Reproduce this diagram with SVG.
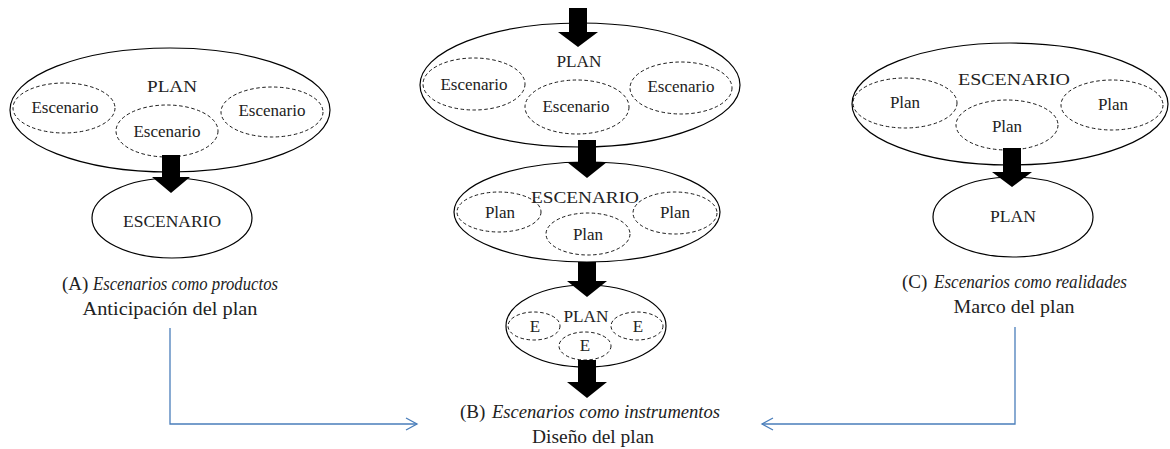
<svg xmlns="http://www.w3.org/2000/svg" width="1170" height="449" viewBox="0 0 1170 449">
  <style>
    .outer { fill: #ffffff; stroke: #000000; stroke-width: 1.2; }
    .inner { fill: none; stroke: #000000; stroke-width: 0.9; stroke-dasharray: 3.5 2.5; }
    text { font-family: "Liberation Serif", "DejaVu Serif", serif; fill: #222222; text-anchor: middle; }
    .t { font-size: 17px; }
    .cap { font-size: 19px; }
    .lead { text-anchor: start; }
    .it { font-style: italic; text-anchor: start; }
    .block { fill: #000000; }
    .link { fill: none; stroke: #4a7ebb; stroke-width: 1.3; }
  </style>
  <defs>
    <marker id="open" viewBox="0 0 14 14" refX="12" refY="7" markerWidth="14" markerHeight="14" markerUnits="userSpaceOnUse" orient="auto">
      <path d="M1,1 L12,7 L1,13" fill="none" stroke="#4a7ebb" stroke-width="1.3"/>
    </marker>
  </defs>

  <!-- (A) Scenarios as products -->
  <g id="a-plan">
    <ellipse class="outer" cx="170" cy="110" rx="160" ry="62"/>
    <text class="t" x="172" y="92" textLength="50" lengthAdjust="spacingAndGlyphs">PLAN</text>
    <ellipse class="inner" cx="64" cy="108" rx="51" ry="25"/>
    <text class="t" x="65" y="113">Escenario</text>
    <ellipse class="inner" cx="167" cy="131" rx="51" ry="26"/>
    <text class="t" x="167" y="137">Escenario</text>
    <ellipse class="inner" cx="272" cy="112" rx="51" ry="25"/>
    <text class="t" x="272" y="116">Escenario</text>
  </g>
  <g id="a-escenario">
    <ellipse class="outer" cx="172" cy="218" rx="80" ry="40"/>
    <text class="t" x="172" y="227" textLength="98" lengthAdjust="spacingAndGlyphs">ESCENARIO</text>
  </g>
  <g id="a-caption">
    <text class="cap lead" x="62" y="290">(A)</text>
    <text class="cap it" x="93" y="290" textLength="185" lengthAdjust="spacingAndGlyphs">Escenarios como productos</text>
    <text class="cap" x="170" y="315" textLength="175" lengthAdjust="spacingAndGlyphs">Anticipación del plan</text>
  </g>

  <!-- (B) Scenarios as instruments -->
  <g id="b-plan">
    <ellipse class="outer" cx="580" cy="85" rx="160" ry="62"/>
    <text class="t" x="579" y="67" textLength="45" lengthAdjust="spacingAndGlyphs">PLAN</text>
    <ellipse class="inner" cx="474" cy="84" rx="51" ry="26"/>
    <text class="t" x="474" y="90">Escenario</text>
    <ellipse class="inner" cx="577" cy="107" rx="52" ry="27"/>
    <text class="t" x="576" y="112">Escenario</text>
    <ellipse class="inner" cx="681" cy="88" rx="51" ry="26"/>
    <text class="t" x="681" y="92">Escenario</text>
  </g>
  <g id="b-escenario">
    <ellipse class="outer" cx="587" cy="212" rx="133" ry="50"/>
    <ellipse class="inner" cx="499" cy="212" rx="42" ry="20"/>
    <text class="t" x="500" y="218">Plan</text>
    <ellipse class="inner" cx="588" cy="234" rx="42" ry="21"/>
    <text class="t" x="588" y="240">Plan</text>
    <ellipse class="inner" cx="675" cy="213" rx="42" ry="21"/>
    <text class="t" x="675" y="218">Plan</text>
    <text class="t" x="585" y="203" textLength="108" lengthAdjust="spacingAndGlyphs">ESCENARIO</text>
  </g>
  <g id="b-plan-small">
    <ellipse class="outer" cx="586" cy="326" rx="80" ry="41"/>
    <text class="t" x="586" y="322" textLength="45" lengthAdjust="spacingAndGlyphs">PLAN</text>
    <ellipse class="inner" cx="534" cy="326" rx="26" ry="14"/>
    <text class="t" x="535" y="332">E</text>
    <ellipse class="inner" cx="585" cy="346" rx="26" ry="14"/>
    <text class="t" x="585" y="351">E</text>
    <ellipse class="inner" cx="637" cy="326" rx="26" ry="14"/>
    <text class="t" x="638" y="332">E</text>
  </g>
  <g id="b-caption">
    <text class="cap lead" x="460" y="418">(B)</text>
    <text class="cap it" x="492" y="418" textLength="228" lengthAdjust="spacingAndGlyphs">Escenarios como instrumentos</text>
    <text class="cap" x="593" y="443" textLength="122" lengthAdjust="spacingAndGlyphs">Diseño del plan</text>
  </g>

  <!-- (C) Scenarios as realities -->
  <g id="c-escenario">
    <ellipse class="outer" cx="1010" cy="104" rx="158" ry="61"/>
    <text class="t" x="1014" y="85" textLength="112" lengthAdjust="spacingAndGlyphs">ESCENARIO</text>
    <ellipse class="inner" cx="905" cy="103" rx="52" ry="25"/>
    <text class="t" x="905" y="108">Plan</text>
    <ellipse class="inner" cx="1007" cy="125" rx="51" ry="25"/>
    <text class="t" x="1007" y="132">Plan</text>
    <ellipse class="inner" cx="1112" cy="105" rx="51" ry="25"/>
    <text class="t" x="1113" y="110">Plan</text>
  </g>
  <g id="c-plan">
    <ellipse class="outer" cx="1013" cy="217" rx="80" ry="40"/>
    <text class="t" x="1013" y="222" textLength="46" lengthAdjust="spacingAndGlyphs">PLAN</text>
  </g>
  <g id="c-caption">
    <text class="cap lead" x="902" y="288">(C)</text>
    <text class="cap it" x="934" y="288" textLength="193" lengthAdjust="spacingAndGlyphs">Escenarios como realidades</text>
    <text class="cap" x="1014" y="313" textLength="121" lengthAdjust="spacingAndGlyphs">Marco del plan</text>
  </g>

  <!-- connectors: block arrows between levels, blue links to the centre -->
  <g id="connectors">
    <polygon class="block" points="162,155 180,155 180,177 190,177 171,193 152,177 162,177"/>
    <polygon class="block" points="569,8 587,8 587,32 598,32 578,47 558,32 569,32"/>
    <polygon class="block" points="578,140 596,140 596,162 607,162 587,178 567,162 578,162"/>
    <polygon class="block" points="578,262 596,262 596,281 607,281 587,297 567,281 578,281"/>
    <polygon class="block" points="578,360 596,360 596,382 607,382 587,398 567,382 578,382"/>
    <polygon class="block" points="1003,148 1021,148 1021,172 1032,172 1012,187 992,172 1003,172"/>
    <path class="link" d="M170,328 V424 H417" marker-end="url(#open)"/>
    <path class="link" d="M1015,327 V424 H762" marker-end="url(#open)"/>
  </g>
</svg>
